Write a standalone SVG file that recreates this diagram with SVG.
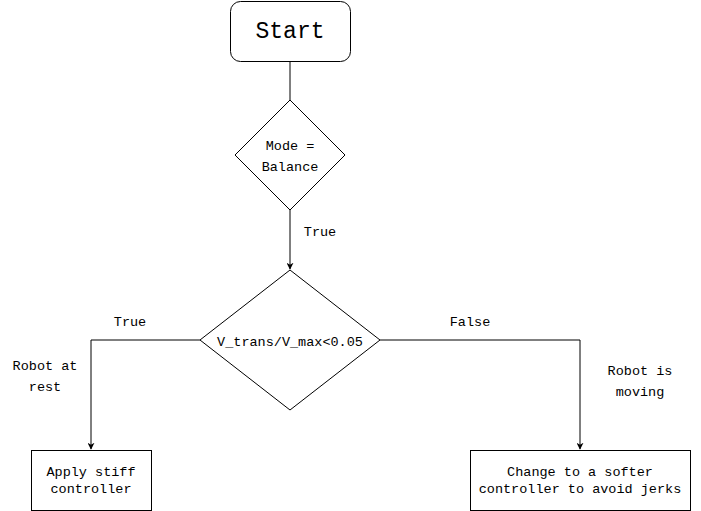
<svg xmlns="http://www.w3.org/2000/svg" width="701" height="511" viewBox="0 0 701 511">
<style>
.shape{fill:#ffffff;stroke:#000000;stroke-width:1}
.edge{fill:none;stroke:#000000;stroke-width:1}
.t{font-family:'Liberation Mono','DejaVu Sans Mono',monospace;font-size:13.5px;fill:#000000;text-anchor:middle}
</style>
<defs>
<marker id="arr" viewBox="0 0 10 10" refX="9" refY="5" markerWidth="7" markerHeight="7" markerUnits="userSpaceOnUse" orient="auto">
<path d="M0,0 L10,5 L0,10 L3,5 Z" fill="#000000"/>
</marker>
</defs>
<rect width="701" height="511" fill="#ffffff"/>
<g id="connectors">
<path class="edge" d="M290,61 L290,100"/>
<path class="edge" d="M290,210 L290,269" marker-end="url(#arr)"/>
<path class="edge" d="M200,340 L91,340 L91,449" marker-end="url(#arr)"/>
<path class="edge" d="M380,340 L580,340 L580,449" marker-end="url(#arr)"/>
<text class="t" x="320" y="236">True</text>
<text class="t" x="130" y="326">True</text>
<text class="t" x="470" y="326">False</text>
<text class="t" x="45" y="370">Robot at</text>
<text class="t" x="45" y="391">rest</text>
<text class="t" x="640" y="375">Robot is</text>
<text class="t" x="640" y="396">moving</text>
</g>
<g id="start">
<rect class="shape" x="230.5" y="1.5" width="120" height="60" rx="10"/>
<text class="t" x="290" y="38" style="font-size:23px">Start</text>
</g>
<g id="mode">
<path class="shape" d="M290,100 L345,155 L290,210 L235,155 Z"/>
<text class="t" x="290" y="150">Mode =</text>
<text class="t" x="290" y="171">Balance</text>
</g>
<g id="vtrans">
<path class="shape" d="M290,270 L380,340 L290,410 L200,340 Z"/>
<text class="t" x="290" y="346">V_trans/V_max&lt;0.05</text>
</g>
<g id="stiff">
<rect class="shape" x="31.5" y="450.5" width="120" height="60"/>
<text class="t" x="91" y="476">Apply stiff</text>
<text class="t" x="91" y="493">controller</text>
</g>
<g id="softer">
<rect class="shape" x="470.5" y="450.5" width="220" height="60"/>
<text class="t" x="580" y="476">Change to a softer</text>
<text class="t" x="580" y="493">controller to avoid jerks</text>
</g>
</svg>
